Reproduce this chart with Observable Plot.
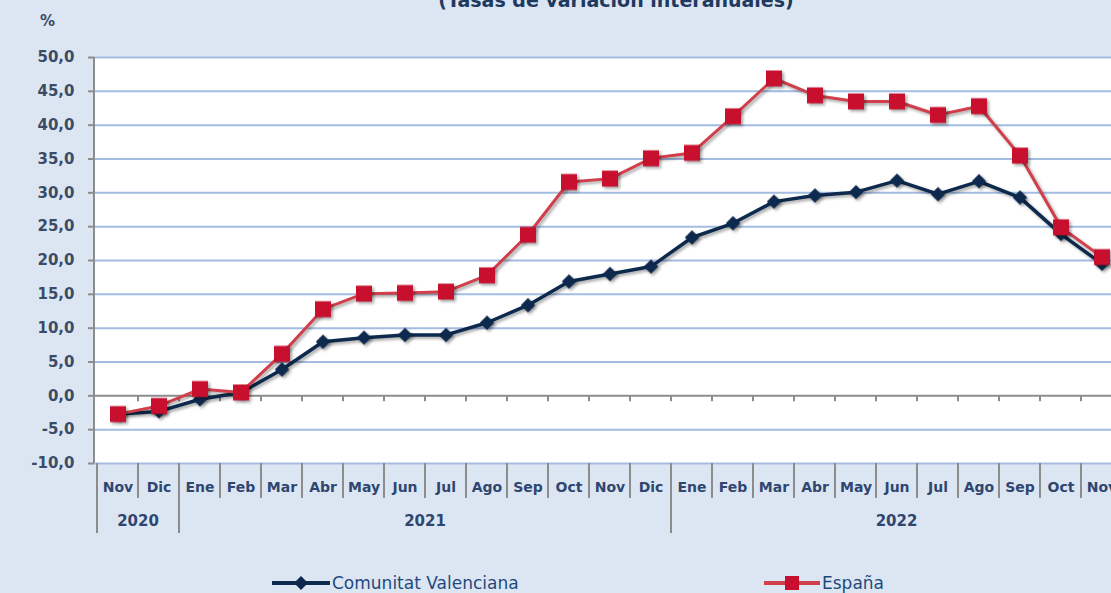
<!DOCTYPE html>
<html><head><meta charset="utf-8">
<script src="https://cdn.jsdelivr.net/npm/d3@7"></script>
<script src="https://cdn.jsdelivr.net/npm/@observablehq/plot@0.6"></script>
<style>
html,body{margin:0;padding:0;background:#dce6f2;overflow:hidden;width:1111px;height:593px;font-family:"DejaVu Sans",sans-serif;}
#wrap{position:relative;width:1111px;height:593px;overflow:hidden;}
#title{position:absolute;left:0;width:1232px;text-align:center;top:-11px;font-weight:bold;font-size:19px;color:#1f3a60;white-space:nowrap;}
#pct{position:absolute;left:40px;top:12px;font-weight:bold;font-size:15px;color:#3b4b66;}
#chart{position:absolute;left:0;top:0;}
.leg{position:absolute;top:573px;display:flex;align-items:center;font-size:17px;color:#1f497d;white-space:nowrap;}
.leg svg{display:block;margin-right:2px;}
</style></head>
<body><div id="wrap">
<div id="title">(Tasas de variación interanuales)</div>
<div id="pct">%</div>
<div id="chart"></div>
<div class="leg" style="left:272px"><svg width="58" height="20"><line x1="0" x2="58" y1="10" y2="10" stroke="#0d2a4e" stroke-width="4"/><path d="M29 3 L36 10 L29 17 L22 10 Z" fill="#0d2a4e"/></svg>Comunitat Valenciana</div>
<div class="leg" style="left:764px"><svg width="56" height="20"><line x1="0" x2="56" y1="10" y2="10" stroke="#d03f4b" stroke-width="4"/><rect x="21" y="3" width="14" height="14" fill="#c8102e"/></svg>España</div>
</div>
<script>
const months = ["Nov","Dic","Ene","Feb","Mar","Abr","May","Jun","Jul","Ago","Sep","Oct","Nov","Dic","Ene","Feb","Mar","Abr","May","Jun","Jul","Ago","Sep","Oct","Nov"];
const years = [2020,2020,2021,2021,2021,2021,2021,2021,2021,2021,2021,2021,2021,2021,2022,2022,2022,2022,2022,2022,2022,2022,2022,2022,2022];
const valenciana = [-2.7,-2.3,-0.5,0.5,3.9,8.0,8.6,9.0,9.0,10.8,13.4,16.9,18.0,19.1,23.4,25.5,28.7,29.6,30.1,31.8,29.8,31.7,29.3,23.9,19.5];
const espana = [-2.7,-1.5,1.0,0.5,6.2,12.8,15.1,15.2,15.4,17.8,23.8,31.6,32.1,35.1,35.9,41.3,46.9,44.4,43.5,43.5,41.5,42.8,35.5,24.9,20.5];
const yTicks = [-10,-5,0,5,10,15,20,25,30,35,40,45,50];

const idx = months.map((m,i)=>i);
const dataV = idx.map(i=>({i, v: valenciana[i]}));
const dataE = idx.map(i=>({i, v: espana[i]}));

const W = 1111, H = 545, top0 = 57, bottom0 = 463;
const plot = Plot.plot({
  width: W, height: H,
  marginTop: top0, marginBottom: H - bottom0, marginLeft: 94, marginRight: 0,
  style: {background: "transparent", overflow: "visible", fontFamily: "DejaVu Sans, sans-serif"},
  x: {type: "band", domain: idx, range: [94, 1124], padding: 0, label: null},
  y: {domain: [-10, 50], label: null},
  marks: [
    Plot.frame({fill: "white", stroke: null}),
    Plot.ruleY(yTicks.filter(d=>d!==0), {stroke: "#a3bce0", strokeWidth: 2}),
    Plot.ruleY([0], {stroke: "#8c8c8c", strokeWidth: 2}),
    Plot.axisY(yTicks, {tickSize: 6, tickPadding: 14, tickFormat: d => d.toFixed(1).replace(".", ","), fontSize: 15, fontWeight: "bold", fill: "#3b4b66", stroke: "#8c8c8c", strokeWidth: 2}),
    Plot.axisX({tickSize: 0, tickPadding: 19, tickFormat: i => months[i], fontSize: 14, fontWeight: "bold", fill: "#2f4670"}),
    Plot.line(dataV, {x: "i", y: "v", stroke: "#0d2a4e", strokeWidth: 3.5}),
    Plot.dot(dataV, {x: "i", y: "v", symbol: "diamond2", r: 6.5, fill: "#0d2a4e", stroke: null}),
    Plot.line(dataE, {x: "i", y: "v", stroke: "#d03f4b", strokeWidth: 3}),
    Plot.dot(dataE, {x: "i", y: "v", symbol: "square", r: 9, fill: "#c8102e", stroke: null})
  ]
});
document.getElementById("chart").appendChild(plot);

const svg = d3.select(plot);
svg.selectAll('g[aria-label="line"], g[aria-label="dot"]').style("filter", "drop-shadow(2px 2px 1.5px rgba(0,0,0,0.35))");
const xs = plot.scale("x"), ys = plot.scale("y");
const bw = xs.bandwidth;
const edge = i => xs.apply(i);
const y0 = ys.apply(0);
const deco = svg.insert("g", 'g[aria-label="line"]');
// left axis line
deco.append("line").attr("x1", 94).attr("x2", 94).attr("y1", top0).attr("y2", bottom0).attr("stroke", "#8c8c8c").attr("stroke-width", 2);
const yearStart = idx.filter(i => i === 0 || years[i] !== years[i-1]);
idx.concat([idx.length]).forEach(i => {
  const x = i < idx.length ? edge(i) : edge(i-1) + bw;
  const isYear = yearStart.includes(i);
  deco.append("line").attr("x1", x).attr("x2", x).attr("y1", bottom0).attr("y2", isYear ? 533 : 498).attr("stroke", "#8c8c8c").attr("stroke-width", 2);
  if (i > 0) deco.append("line").attr("x1", x).attr("x2", x).attr("y1", y0).attr("y2", y0 + 6).attr("stroke", "#8c8c8c").attr("stroke-width", 2);
});
// year labels
const yrs = Array.from(new Set(years));
yrs.forEach(yr => {
  const ii = idx.filter(i => years[i] === yr);
  const cx = d3.mean(ii, i => edge(i) + bw/2);
  svg.append("text").attr("x", cx).attr("y", 526).attr("text-anchor", "middle")
    .attr("font-size", 15).attr("font-weight", "bold").attr("fill", "#2f4670").text(yr);
});
</script>
</body></html>
